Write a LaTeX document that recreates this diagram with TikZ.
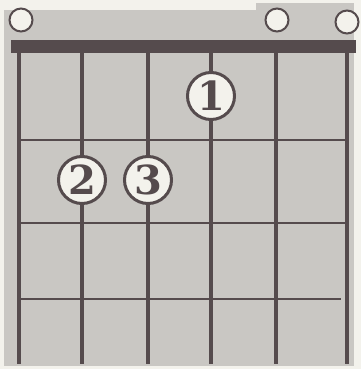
\documentclass[tikz,border=0pt]{standalone}
\usepackage{fontspec}
\usepackage{tikz}
\newfontfamily\fingerfont{DejaVu Serif}
\definecolor{board}{HTML}{C9C7C3}
\definecolor{ink}{HTML}{554B4D}
\definecolor{paper}{HTML}{F3F2EC}

\begin{document}
\begin{tikzpicture}[x=1pt, y=-1pt,
  finger/.style={circle, draw=ink, line width=3pt, fill=paper, minimum size=47pt, inner sep=0pt,
    text=ink, font=\fingerfont\fontsize{40}{40}\selectfont\bfseries},
  open/.style={circle, draw=ink, line width=2pt, fill=paper, minimum size=23pt, inner sep=0pt}]
\useasboundingbox (0,0) rectangle (361,369);
\fill[paper] (0,0) rectangle (361,369);
\fill[board] (4,10) rectangle (354,366);
\fill[board] (256,3) rectangle (354,10);
\fill[ink] (11,40) rectangle (356,53);

\foreach \x in {19,82,148,211,276,347} {
  \draw[ink, line width=3.2pt] (\x,53) -- (\x,364);
}
\foreach \y in {140,223} {
  \draw[ink, line width=2.8pt] (19,\y) -- (347,\y);
}
\draw[ink, line width=2.8pt] (19,299) -- (341,299);

\node[open] (open6) at (21,20) {};
\node[open] (open2) at (277,20) {};
\node[open] (open1) at (347,22) {};

\node[finger] (f1) at (211,96) {1};
\node[finger] (f2) at (82,180) {2};
\node[finger] (f3) at (148,180) {3};
\end{tikzpicture}
\end{document}
